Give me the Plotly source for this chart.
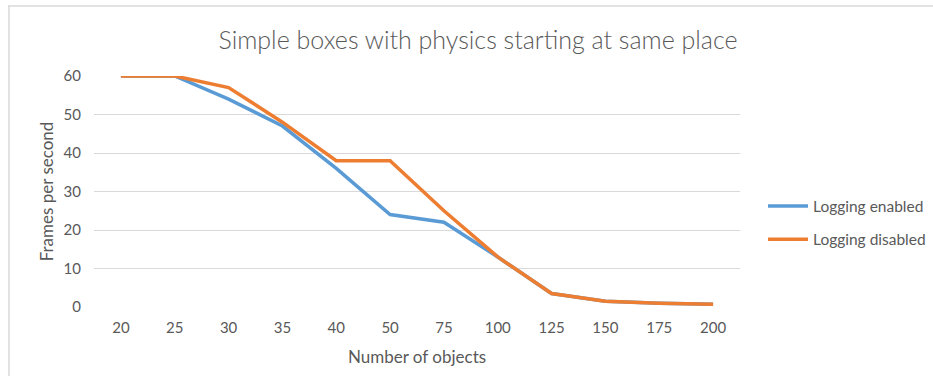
import plotly.graph_objects as go

categories = ["20", "25", "30", "35", "40", "50", "75", "100", "125", "150", "175", "200"]
logging_enabled = [60, 60, 54, 47, 36, 24, 22, 13, 3.5, 1.5, 1.0, 0.7]
logging_disabled = [60, 60, 57, 48, 38, 38, 25, 13, 3.5, 1.5, 1.0, 0.7]
y_ticks = [0, 10, 20, 30, 40, 50, 60]

W, H = 933, 376
L, R, T, B = 94, 193, 76, 69
pw, ph = W - L - R, H - T - B

def px_x(x):
    return (x - L) / pw

def px_y(y):
    return (H - B - y) / ph

FONT = "Lato"
GREY = "#595959"

fig = go.Figure()
fig.add_trace(go.Scatter(x=categories, y=logging_enabled, mode="lines",
                         name="Logging enabled", legendgroup="a",
                         line=dict(color="#5B9BD5", width=3.5), cliponaxis=False))
fig.add_trace(go.Scatter(x=categories, y=logging_disabled, mode="lines",
                         name="Logging disabled", legendgroup="b",
                         line=dict(color="#ED7D31", width=3.5), cliponaxis=False))

fig.update_layout(
    width=W, height=H,
    margin=dict(l=L, r=R, t=T, b=B, autoexpand=False),
    paper_bgcolor="white", plot_bgcolor="white",
    font=dict(family=FONT, color=GREY, size=15),
    title=dict(text="Simple boxes with physics starting at same place",
               x=478 / W, xanchor="center", xref="container",
               y=1 - 40 / H, yanchor="middle", yref="container",
               font=dict(family=FONT, size=25, color=GREY, weight=300)),
    xaxis=dict(type="category", range=[-0.5, len(categories) - 0.5],
               showgrid=False, zeroline=False, showline=False, automargin=False,
               ticks="", tickfont=dict(size=15, color=GREY), ticklabelstandoff=10,
               title=dict(text="Number of objects", font=dict(size=17, color=GREY), standoff=16)),
    yaxis=dict(range=[0, 60], tickvals=y_ticks, showgrid=True, gridcolor="#D9D9D9",
               gridwidth=1, zeroline=False, showline=False, ticks="", automargin=False,
               tickfont=dict(size=15, color=GREY), ticklabelstandoff=12,
               title=dict(text="Frames per second", font=dict(size=17, color=GREY), standoff=5)),
    legend=dict(x=px_x(763), xanchor="left", y=px_y(223), yanchor="middle",
                font=dict(size=15.5, color=GREY), itemwidth=40, tracegroupgap=10,
                bgcolor="rgba(0,0,0,0)"),
    showlegend=True,
)

# chart border (top and left edges visible)
fig.add_shape(type="line", xref="paper", yref="paper",
              x0=px_x(8), x1=px_x(W + 5), y0=px_y(6), y1=px_y(6),
              line=dict(color="#D9D9D9", width=1.5))
fig.add_shape(type="line", xref="paper", yref="paper",
              x0=px_x(9), x1=px_x(9), y0=px_y(6), y1=px_y(H + 5),
              line=dict(color="#D9D9D9", width=1.5))

fig.write_html("out.html", config={"displayModeBar": False},
               post_script="document.body.style.margin='0';")
